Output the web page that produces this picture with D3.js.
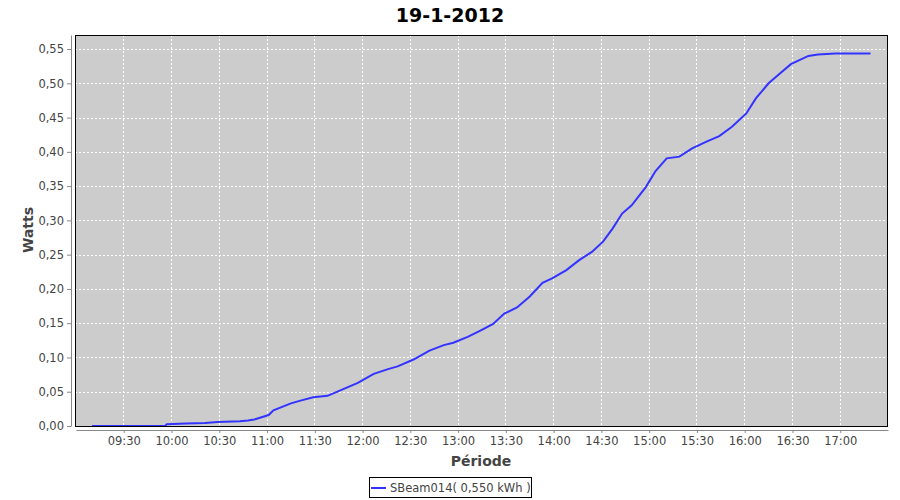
<!DOCTYPE html>
<html><head><meta charset="utf-8">
<script src="https://cdn.jsdelivr.net/npm/d3@7"></script>
<style>body{margin:0;background:#fff}svg{display:block}text{font-family:"DejaVu Sans",sans-serif}</style>
</head><body><svg id="c" width="900" height="500"></svg>
<script>
const title = "19-1-2012";
const seriesName = "SBeam014( 0,550 kWh )";
const times = ["09:10","09:56","09:57","10:09","10:21","10:29","10:43","10:48","10:52","11:01","11:04","11:15","11:21","11:29","11:38","11:46","11:57","12:07","12:16","12:22","12:32","12:42","12:51","12:57","13:06","13:14","13:22","13:29","13:37","13:45","13:53","13:59","14:08","14:16","14:24","14:31","14:37","14:43","14:49","14:58","15:04","15:11","15:19","15:27","15:36","15:44","15:52","16:01","16:07","16:15","16:21","16:29","16:40","16:46","16:57","17:19"];
const watts = [0.000,0.000,0.0025,0.0035,0.0045,0.006,0.007,0.008,0.0095,0.016,0.023,0.033,0.037,0.042,0.044,0.052,0.063,0.076,0.083,0.087,0.097,0.110,0.118,0.1215,0.130,0.139,0.149,0.164,0.173,0.189,0.209,0.2155,0.2275,0.242,0.254,0.269,0.288,0.310,0.322,0.349,0.372,0.3905,0.393,0.405,0.415,0.423,0.4365,0.456,0.478,0.500,0.512,0.528,0.540,0.542,0.5435,0.5435];
const xTicks = ["09:30","10:00","10:30","11:00","11:30","12:00","12:30","13:00","13:30","14:00","14:30","15:00","15:30","16:00","16:30","17:00"];
const yTicks = [0,0.05,0.10,0.15,0.20,0.25,0.30,0.35,0.40,0.45,0.50,0.55];

const parse = d3.timeParse("%H:%M");
const data = times.map((t,i)=>({t:parse(t), v:watts[i]}));
const svg = d3.select("#c");
const L=75, R=888, T=35, B=426;
const x = d3.scaleTime().domain([parse("09:00"), parse("17:30")]).range([L+1, R]);
const y = d3.scaleLinear().domain([0, 0.5705]).range([B, T]);

svg.append("rect").attr("x",L).attr("y",T).attr("width",R-L).attr("height",B-T).attr("fill","#cccccc");
// grid
svg.append("g").selectAll("line").data(xTicks).join("line")
  .attr("x1",d=>x(parse(d))).attr("x2",d=>x(parse(d))).attr("y1",T).attr("y2",B)
  .attr("stroke","#fff").attr("stroke-dasharray","2,2").attr("shape-rendering","crispEdges");
svg.append("g").selectAll("line").data(yTicks).join("line")
  .attr("y1",d=>Math.round(y(d))+0.5).attr("y2",d=>Math.round(y(d))+0.5).attr("x1",L).attr("x2",R)
  .attr("stroke","#fff").attr("stroke-dasharray","2,2");
// line
svg.append("path").datum(data).attr("fill","none").attr("stroke","#3333ff").attr("stroke-width",2)
  .attr("d", d3.line().x(d=>x(d.t)).y(d=>y(d.v)));
svg.append("rect").attr("x",L+0.5).attr("y",T+0.5).attr("width",R-L-1).attr("height",B-T).attr("fill","none").attr("stroke","#000");

// axes
const fmt = d3.format(".2f");
const yAxis = d3.axisLeft(y).tickValues(yTicks).tickSize(4).tickSizeOuter(0).tickPadding(3)
  .tickFormat(d=>fmt(d).replace(".",","));
const gy = svg.append("g").attr("transform",`translate(${L-4},0)`).call(yAxis);
const xAxis = d3.axisBottom(x).tickValues(xTicks.map(parse)).tickSize(3).tickSizeOuter(0).tickPadding(4)
  .tickFormat(d3.timeFormat("%H:%M"));
const gx = svg.append("g").attr("transform",`translate(0,${B+4})`).call(xAxis);
[gx,gy].forEach(g=>{
  g.select(".domain").attr("stroke","#888");
  g.selectAll(".tick line").attr("stroke","#888");
  g.selectAll("text").attr("fill","#444").attr("font-size","11.5px").attr("font-family","DejaVu Sans, sans-serif");
});

svg.append("text").attr("x",450).attr("y",22).attr("text-anchor","middle")
  .attr("font-size","19px").attr("font-weight","bold").text(title);
svg.append("text").attr("transform","translate(33,230) rotate(-90)").attr("text-anchor","middle")
  .attr("font-size","14px").attr("font-weight","bold").attr("fill","#444").text("Watts");
svg.append("text").attr("x",481).attr("y",466).attr("text-anchor","middle")
  .attr("font-size","14px").attr("font-weight","bold").attr("fill","#444").text("Période");

// legend
const lg = svg.append("g");
lg.append("rect").attr("x",369.5).attr("y",477.5).attr("width",162).attr("height",20).attr("fill","#fff").attr("stroke","#000");
lg.append("line").attr("x1",371).attr("x2",386).attr("y1",488).attr("y2",488).attr("stroke","#3333ff").attr("stroke-width",2);
lg.append("text").attr("x",390).attr("y",492).attr("font-size","11.5px").attr("fill","#444").text(seriesName);
</script></body></html>
